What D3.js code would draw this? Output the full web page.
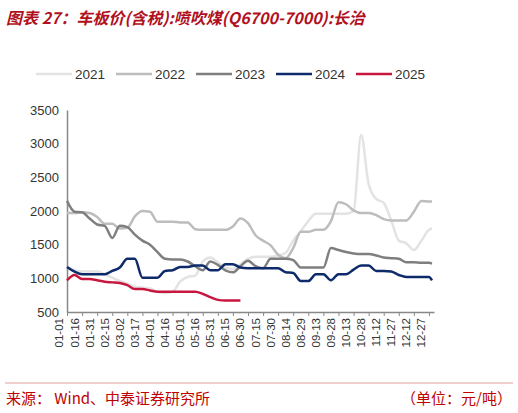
<!DOCTYPE html><html><head><meta charset="utf-8"><script src="https://cdn.jsdelivr.net/npm/d3@7"></script>
<style>body{margin:0;background:#fff}</style></head><body><svg id="c" width="518" height="413"></svg><script>
const tickLabels=["01-01","01-16","01-31","02-15","03-02","03-17","04-01","04-16","05-01","05-16","05-31","06-15","06-30","07-15","07-30","08-14","08-29","09-13","09-28","10-13","10-28","11-12","11-27","12-12","12-27"];
const days=d3.range(0,361,7.5).concat([363]);
const s2021=[1170,1120,1100,1100,1100,1060,1010,960,920,870,860,850,800,780,800,950,1020,1040,1250,1310,1240,1160,1140,1210,1290,1320,1320,1320,1340,1380,1560,1700,1850,1960,1960,1960,1960,1960,2000,3130,2400,2180,2120,1860,1560,1520,1420,1560,1720,1740];
const s2022=[1970,1970,1980,1970,1910,1810,1810,1740,1750,1920,2000,1990,1840,1840,1840,1830,1830,1730,1720,1720,1720,1720,1770,1890,1820,1640,1560,1490,1350,1300,1450,1690,1690,1720,1720,1850,2130,2100,2010,1970,1970,1940,1880,1860,1860,1860,1990,2150,2140,2140];
const s2023=[2150,1990,1980,1890,1800,1780,1600,1780,1760,1650,1560,1500,1390,1290,1280,1280,1250,1180,1120,1250,1200,1120,1090,1180,1260,1180,1150,1290,1290,1290,1270,1160,1160,1160,1160,1450,1420,1390,1370,1360,1360,1340,1310,1300,1290,1240,1240,1230,1230,1220];
const s2024=[1170,1100,1060,1060,1060,1060,1110,1160,1290,1290,1010,1010,1010,1110,1120,1170,1170,1190,1190,1120,1120,1210,1210,1160,1150,1150,1150,1150,1150,1090,1080,960,960,1060,1060,970,1060,1060,1130,1190,1190,1110,1110,1100,1050,1020,1020,1020,1020,970];
const s2025=[970,1050,990,990,970,950,940,930,900,840,840,820,800,800,800,800,800,800,770,720,680,670,670,670];
const series=[["2021",s2021,"#e3e3e3"],["2022",s2022,"#bdbdbd"],["2023",s2023,"#7f7f7f"],["2024",s2024,"#0d2a6b"],["2025",s2025,"#c8173f"]];
const svg=d3.select("#c");
svg.append("text").attr("x",6).attr("y",24).attr("fill","#b01020").attr("font-family","Noto Sans CJK SC").attr("font-size",16).attr("font-weight","bold").attr("font-style","italic").text("图表 27：车板价(含税):喷吹煤(Q6700-7000):长治");
const x=d3.scaleLinear().domain([0,365]).range([67,434]);
const y=d3.scaleLinear().domain([500,3500]).range([312,110]);
const ya=svg.append("g").attr("transform","translate(67,0)").call(d3.axisLeft(y).tickValues(d3.range(500,3501,500)).tickFormat(d3.format("d")).tickSize(0).tickPadding(8));
ya.select(".domain").attr("stroke","#888").attr("stroke-width",1.5);
ya.selectAll("text").attr("font-family","Liberation Sans, Arial").attr("font-size",13).attr("fill","#333");
const xa=svg.append("g").attr("transform","translate(0,312)").call(d3.axisBottom(x).tickValues(tickLabels.map((d,i)=>i*15)).tickFormat((d,i)=>tickLabels[i]).tickSize(4).tickSizeOuter(0));
xa.select(".domain").attr("stroke","#888").attr("stroke-width",1.5);
xa.selectAll("line").attr("stroke","#888");
xa.selectAll("text").attr("font-family","Liberation Sans, Arial").attr("font-size",11.5).attr("fill","#333").attr("transform","rotate(-90)").attr("text-anchor","end").attr("dx","-6").attr("dy","-0.35em").attr("x",0).attr("y",0);
const line=d3.line().defined(d=>d[1]!=null).x(d=>x(d[0])).y(d=>y(d[1])).curve(d3.curveMonotoneX);
series.forEach(([n,v,c])=>{svg.append("path").datum(v.map((d,i)=>[days[i],d])).attr("fill","none").attr("stroke",c).attr("stroke-width",2.5).attr("d",line);});
const lx=[36,116,196,276,356];
series.forEach(([n,v,c],i)=>{svg.append("line").attr("x1",lx[i]).attr("x2",lx[i]+36).attr("y1",74).attr("y2",74).attr("stroke",c).attr("stroke-width",2.5);
svg.append("text").attr("x",lx[i]+39).attr("y",79).attr("font-family","Liberation Sans, Arial").attr("font-size",13.5).attr("fill","#333").text(n);});
svg.append("line").attr("x1",5).attr("x2",513).attr("y1",383).attr("y2",383).attr("stroke","#e3a0a0").attr("stroke-width",1);
svg.append("text").attr("x",6).attr("y",404).attr("fill","#c00000").attr("font-family","Noto Sans CJK SC").attr("font-size",15).text("来源：  Wind、中泰证券研究所");
svg.append("text").attr("x",512).attr("y",404).attr("text-anchor","end").attr("fill","#c00000").attr("font-family","Noto Sans CJK SC").attr("font-size",15).text("（单位：元/吨）");
</script></body></html>
